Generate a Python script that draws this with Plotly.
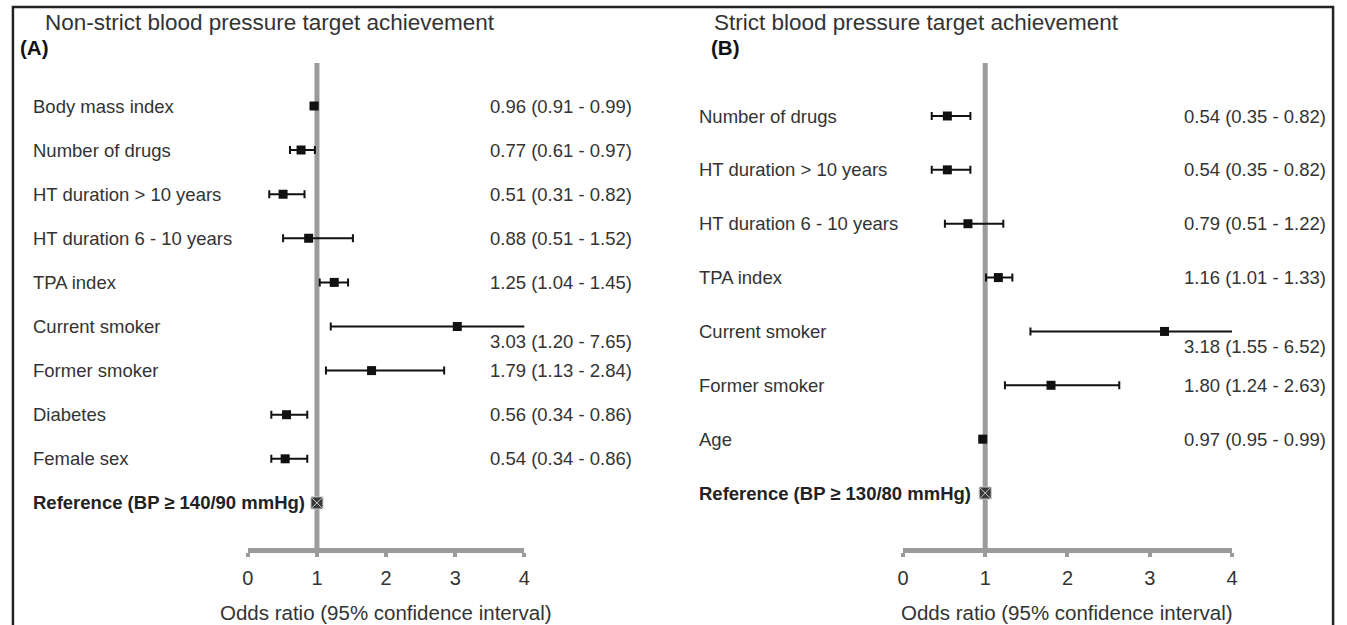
import plotly.graph_objects as go

# ---------------- data ----------------
A_title = "Non-strict blood pressure target achievement"
A_tag = "(A)"
A_labels = ["Body mass index", "Number of drugs", "HT duration > 10 years",
            "HT duration 6 - 10 years", "TPA index", "Current smoker",
            "Former smoker", "Diabetes", "Female sex"]
A_or = [0.96, 0.77, 0.51, 0.88, 1.25, 3.03, 1.79, 0.56, 0.54]
A_lo = [0.91, 0.61, 0.31, 0.51, 1.04, 1.20, 1.13, 0.34, 0.34]
A_hi = [0.99, 0.97, 0.82, 1.52, 1.45, 7.65, 2.84, 0.86, 0.86]
A_ref = "Reference (BP ≥ 140/90 mmHg)"

B_title = "Strict blood pressure target achievement"
B_tag = "(B)"
B_labels = ["Number of drugs", "HT duration > 10 years", "HT duration 6 - 10 years",
            "TPA index", "Current smoker", "Former smoker", "Age"]
B_or = [0.54, 0.54, 0.79, 1.16, 3.18, 1.80, 0.97]
B_lo = [0.35, 0.35, 0.51, 1.01, 1.55, 1.24, 0.95]
B_hi = [0.82, 0.82, 1.22, 1.33, 6.52, 2.63, 0.99]
B_ref = "Reference (BP ≥ 130/80 mmHg)"

ref_value = 1
x_ticks = [0, 1, 2, 3, 4]
x_title = "Odds ratio (95% confidence interval)"

# ---------------- styling / layout ----------------
W, H = 1347, 625
FONT = "Liberation Sans, Arial, sans-serif"
TXT = "#333333"
GRAY = "#9b9b9b"
XMAX = x_ticks[-1]

def px_x(p):
    return p / W

def px_y(p):
    return 1 - p / H

y_dom = [px_y(548), px_y(63)]

panels = [
    dict(title=A_title, tag=A_tag, labels=A_labels, orv=A_or, lo=A_lo, hi=A_hi, ref=A_ref,
         xa="x", ya="y", xdom=[px_x(244), px_x(523)], row0=106, step=44.1,
         label_x=25, value_x=634, title_x=37, tag_x=12),
    dict(title=B_title, tag=B_tag, labels=B_labels, orv=B_or, lo=B_lo, hi=B_hi, ref=B_ref,
         xa="x2", ya="y2", xdom=[px_x(905), px_x(1237)], row0=116, step=53.86,
         label_x=697, value_x=1334, title_x=712, tag_x=709),
]

fig = go.Figure()
annotations = []
shapes = []

for k, p in enumerate(panels):
    n = len(p["labels"])
    rows = list(range(n))
    ref_row = n
    # estimates with CI
    fig.add_trace(go.Scatter(
        x=p["orv"], y=rows, mode="markers",
        marker=dict(symbol="square", size=9, color="#111111"),
        error_x=dict(type="data", symmetric=False,
                     array=[h - o for h, o in zip(p["hi"], p["orv"])],
                     arrayminus=[o - l for o, l in zip(p["orv"], p["lo"])],
                     color="#111111", thickness=2, width=4),
        xaxis=p["xa"], yaxis=p["ya"], hoverinfo="skip", cliponaxis=True,
    ))
    # reference marker
    fig.add_trace(go.Scatter(
        x=[ref_value], y=[ref_row], mode="markers",
        marker=dict(symbol="square-x", size=12, color="#3a3a3a",
                    line=dict(color="#c8c8c8", width=1)),
        xaxis=p["xa"], yaxis=p["ya"], hoverinfo="skip", cliponaxis=False,
    ))
    yname = "yaxis" if k == 0 else "yaxis2"
    xname = "xaxis" if k == 0 else "xaxis2"
    top = (63 - p["row0"]) / p["step"]
    bot = (548 - p["row0"]) / p["step"]
    fig.layout[yname] = dict(domain=y_dom, range=[bot, top], visible=False,
                             anchor=p["xa"], showgrid=False, zeroline=False)
    fig.layout[xname] = dict(domain=p["xdom"], range=[0, XMAX], anchor=p["ya"],
                             tickvals=x_ticks, ticktext=[str(t) for t in x_ticks],
                             showline=True, linecolor=GRAY, linewidth=4.5,
                             ticks="outside", ticklen=4, tickwidth=4, tickcolor=GRAY,
                             showgrid=False, zeroline=False,
                             tickfont=dict(family=FONT, size=20, color=TXT),
                             ticklabelstandoff=4, fixedrange=True)
    # vertical reference line at OR = 1
    shapes.append(dict(type="line", xref=p["xa"], x0=ref_value, x1=ref_value,
                       yref=f"{p['ya']} domain", y0=0, y1=1,
                       line=dict(color=GRAY, width=5), layer="below"))
    # row labels and values
    for i, lab in enumerate(p["labels"]):
        annotations.append(dict(text=lab, xref="paper", x=px_x(p["label_x"]),
                                yref=p["ya"], y=i, xanchor="left", yanchor="middle",
                                showarrow=False, font=dict(family=FONT, size=18.5, color=TXT)))
        val = f"{p['orv'][i]:.2f} ({p['lo'][i]:.2f} - {p['hi'][i]:.2f})"
        shift = -15 if p["hi"][i] > XMAX else 0
        annotations.append(dict(text=val, xref="paper", x=px_x(p["value_x"]),
                                yref=p["ya"], y=i, xanchor="right", yanchor="middle",
                                yshift=shift, showarrow=False,
                                font=dict(family=FONT, size=18.5, color=TXT)))
    annotations.append(dict(text=f"<b>{p['ref']}</b>", xref="paper", x=px_x(p["label_x"]),
                            yref=p["ya"], y=ref_row, xanchor="left", yanchor="middle",
                            showarrow=False, font=dict(family=FONT, size=18.5, color="#222222")))
    # panel title and tag
    annotations.append(dict(text=p["title"], xref="paper", x=px_x(p["title_x"]),
                            yref="paper", y=px_y(23), xanchor="left", yanchor="middle",
                            showarrow=False, font=dict(family=FONT, size=22.5, color=TXT)))
    annotations.append(dict(text=f"<b>{p['tag']}</b>", xref="paper", x=px_x(p["tag_x"]),
                            yref="paper", y=px_y(47), xanchor="left", yanchor="middle",
                            showarrow=False, font=dict(family=FONT, size=20.5, color="#111111")))
    # x axis title
    annotations.append(dict(text=x_title, xref=f"{p['xa']} domain", x=0.5,
                            yref="paper", y=px_y(612), xanchor="center", yanchor="middle",
                            showarrow=False, font=dict(family=FONT, size=20.5, color=TXT)))

# outer frame
shapes.append(dict(type="rect", xref="paper", yref="paper",
                   x0=px_x(7), x1=px_x(1339), y0=-0.2, y1=px_y(7),
                   line=dict(color="#222222", width=2.5), layer="above"))

fig.update_layout(width=W, height=H, margin=dict(l=0, r=0, t=0, b=0),
                  paper_bgcolor="white", plot_bgcolor="white", showlegend=False,
                  annotations=annotations, shapes=shapes,
                  font=dict(family=FONT, color=TXT))

fig.write_html("out.html", config={"displayModeBar": False})
